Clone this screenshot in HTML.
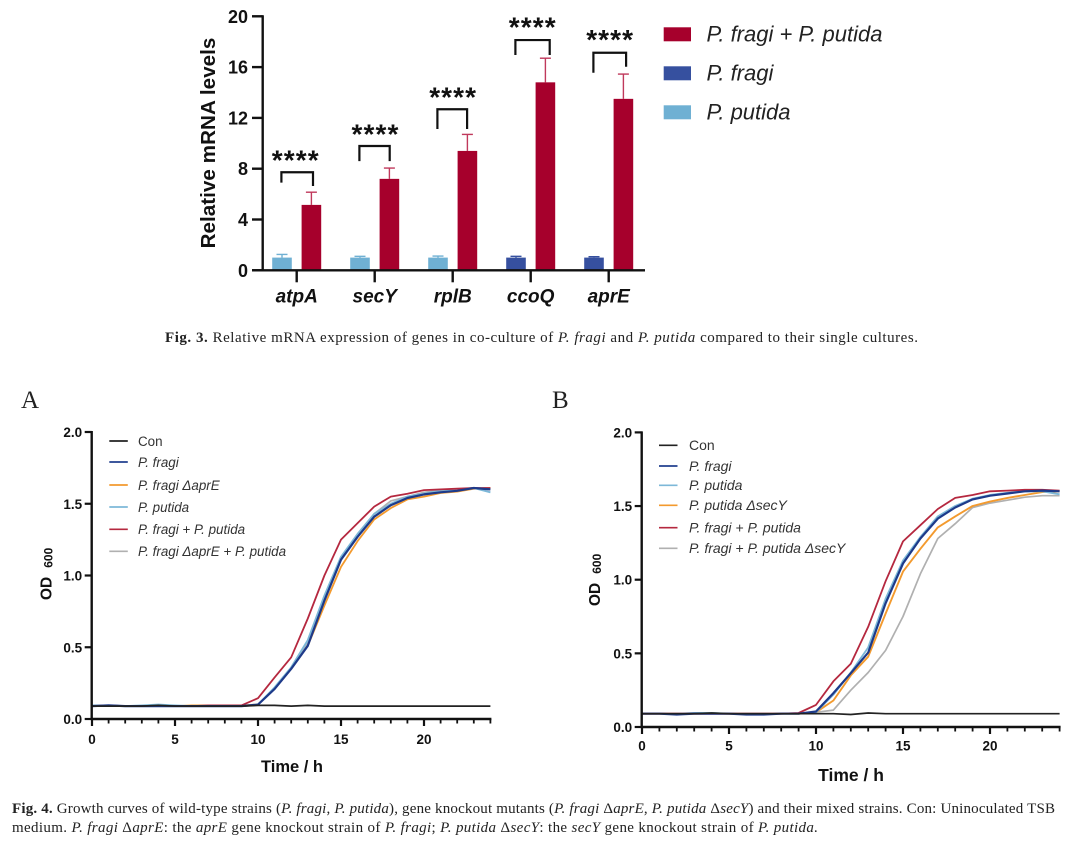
<!DOCTYPE html>
<html lang="en">
<head>
<meta charset="utf-8">
<title>Figures 3 and 4: mRNA expression and growth curves</title>
<style>
html,body{margin:0;padding:0;background:#fff;}
body{width:1080px;height:846px;overflow:hidden;}
svg{display:block;filter:blur(0.3px);}
.sans{font-family:"Liberation Sans",Arial,sans-serif;}
.serif{font-family:"Liberation Serif","Times New Roman",serif;fill:#222;}
</style>
</head>
<body>
<svg id="page" xmlns="http://www.w3.org/2000/svg" width="1080" height="846" viewBox="0 0 1080 846">
  <g id="bar-chart"></g>
  <text class="serif" x="165" y="342" font-size="15" textLength="753" lengthAdjust="spacing"><tspan font-weight="bold">Fig. 3.</tspan>  Relative mRNA expression of genes in co-culture of <tspan font-style="italic">P. fragi</tspan> and <tspan font-style="italic">P. putida</tspan> compared to their single cultures.</text>
  <text class="serif" x="21" y="408" font-size="25">A</text>
  <text class="serif" x="552" y="408" font-size="25">B</text>
  <g id="panel-a"></g>
  <g id="panel-b"></g>
  <text class="serif" x="12" y="813" font-size="15" textLength="1043" lengthAdjust="spacing"><tspan font-weight="bold">Fig. 4.</tspan>  Growth curves of wild-type strains (<tspan font-style="italic">P. fragi</tspan>, <tspan font-style="italic">P. putida</tspan>), gene knockout mutants (<tspan font-style="italic">P. fragi</tspan> Δ<tspan font-style="italic">aprE</tspan>, <tspan font-style="italic">P. putida</tspan> Δ<tspan font-style="italic">secY</tspan>) and their mixed strains. Con: Uninoculated TSB</text>
  <text class="serif" x="12" y="832" font-size="15" textLength="806" lengthAdjust="spacing">medium. <tspan font-style="italic">P. fragi</tspan> Δ<tspan font-style="italic">aprE</tspan>: the <tspan font-style="italic">aprE</tspan> gene knockout strain of <tspan font-style="italic">P. fragi</tspan>; <tspan font-style="italic">P. putida</tspan> Δ<tspan font-style="italic">secY</tspan>: the <tspan font-style="italic">secY</tspan> gene knockout strain of <tspan font-style="italic">P. putida.</tspan></text>
</svg>
<script>
/* ---------- Fig. 3 data ---------- */
var genes = ['atpA', 'secY', 'rplB', 'ccoQ', 'aprE'];
var singleValues = [1.0, 1.0, 1.0, 1.0, 1.0];
var singleErrors = [0.25, 0.1, 0.12, 0.1, 0.07];
var singleStrain = ['P. putida', 'P. putida', 'P. putida', 'P. fragi', 'P. fragi'];
var mixedValues = [5.15, 7.2, 9.4, 14.8, 13.5];
var mixedErrors = [1.0, 0.85, 1.3, 1.9, 1.95];
var barTicks = [0, 4, 8, 12, 16, 20];
var barLegend = ['P. fragi + P. putida', 'P. fragi', 'P. putida'];
var sigLabels = ['****', '****', '****', '****', '****'];
/* bracket heights in axis units: top, left-leg bottom, right-leg bottom */
var bracketTop = [7.72, 9.79, 12.68, 18.13, 17.13];
var bracketLeft = [6.9, 8.6, 11.13, 16.95, 15.56];
var bracketRight = [6.64, 8.6, 11.13, 16.95, 16.03];
var sigHeight = [8.94, 10.99, 13.88, 19.4, 18.4];

/* ---------- Fig. 4 data ---------- */
var hours = [0,1,2,3,4,5,6,7,8,9,10,11,12,13,14,15,16,17,18,19,20,21,22,23,24];
var odTicks = [0, 0.5, 1.0, 1.5, 2.0];
var hourTicks = [0, 5, 10, 15, 20];
var conA = [0.09,0.09,0.09,0.09,0.095,0.09,0.09,0.09,0.09,0.09,0.095,0.095,0.09,0.095,0.09,0.09,0.09,0.09,0.09,0.09,0.09,0.09,0.09,0.09,0.09];
var fragiA = [0.09,0.095,0.09,0.09,0.09,0.09,0.09,0.09,0.09,0.09,0.10,0.21,0.35,0.51,0.825,1.11,1.27,1.41,1.49,1.54,1.565,1.58,1.59,1.61,1.60];
var fragiAprEA = [0.09,0.09,0.09,0.09,0.09,0.09,0.095,0.095,0.095,0.095,0.10,0.21,0.35,0.51,0.79,1.06,1.24,1.39,1.47,1.53,1.55,1.575,1.585,1.605,1.61];
var putidaA = [0.095,0.095,0.09,0.095,0.10,0.095,0.09,0.09,0.09,0.09,0.10,0.22,0.36,0.55,0.86,1.13,1.29,1.43,1.50,1.55,1.57,1.59,1.60,1.61,1.58];
var mixedA = [0.09,0.095,0.09,0.09,0.09,0.09,0.09,0.095,0.095,0.095,0.145,0.29,0.43,0.70,1.0,1.25,1.365,1.48,1.55,1.57,1.595,1.60,1.605,1.61,1.61];
var mixedAprEA = [0.09,0.09,0.09,0.09,0.09,0.09,0.09,0.09,0.09,0.09,0.10,0.215,0.355,0.53,0.84,1.12,1.28,1.43,1.52,1.55,1.58,1.595,1.60,1.61,1.60];
var conB = [0.09,0.09,0.09,0.09,0.095,0.09,0.09,0.09,0.09,0.09,0.09,0.09,0.085,0.095,0.09,0.09,0.09,0.09,0.09,0.09,0.09,0.09,0.09,0.09,0.09];
var fragiB = [0.09,0.09,0.085,0.09,0.09,0.09,0.085,0.085,0.09,0.09,0.105,0.23,0.365,0.505,0.84,1.11,1.28,1.415,1.49,1.545,1.57,1.585,1.60,1.605,1.60];
var putidaB = [0.09,0.09,0.09,0.095,0.095,0.09,0.09,0.09,0.09,0.09,0.10,0.22,0.37,0.54,0.87,1.13,1.29,1.43,1.50,1.55,1.575,1.59,1.60,1.60,1.58];
var putidaSecYB = [0.09,0.09,0.09,0.09,0.09,0.09,0.09,0.09,0.09,0.09,0.10,0.18,0.35,0.477,0.77,1.055,1.21,1.355,1.43,1.50,1.53,1.555,1.575,1.595,1.60];
var mixedB = [0.09,0.09,0.09,0.09,0.09,0.09,0.09,0.09,0.09,0.095,0.15,0.31,0.43,0.68,0.99,1.26,1.37,1.48,1.555,1.575,1.60,1.605,1.61,1.61,1.605];
var mixedSecYB = [0.09,0.09,0.09,0.09,0.09,0.09,0.09,0.09,0.09,0.09,0.10,0.115,0.25,0.37,0.52,0.75,1.04,1.28,1.38,1.49,1.52,1.54,1.56,1.57,1.57];

var legendA = [
  {label: 'Con', color: '#222222', italic: false},
  {label: 'P. fragi', color: '#23408f', italic: true},
  {label: 'P. fragi ΔaprE', color: '#f39a2e', italic: true},
  {label: 'P. putida', color: '#7db8d8', italic: true},
  {label: 'P. fragi + P. putida', color: '#b5283f', italic: true},
  {label: 'P. fragi ΔaprE + P. putida', color: '#b0b0b0', italic: true}
];
var legendB = [
  {label: 'Con', color: '#222222', italic: false},
  {label: 'P. fragi', color: '#23408f', italic: true},
  {label: 'P. putida', color: '#7db8d8', italic: true},
  {label: 'P. putida ΔsecY', color: '#f39a2e', italic: true},
  {label: 'P. fragi + P. putida', color: '#b5283f', italic: true},
  {label: 'P. fragi + P. putida ΔsecY', color: '#b0b0b0', italic: true}
];

/* ---------- helpers ---------- */
var NS = 'http://www.w3.org/2000/svg';
var INK = '#111111';

function make(parent, tag, name, attrs) {
  var el = document.createElementNS(NS, tag);
  
  
  for (var k in attrs) { el.setAttribute(k, attrs[k]); }
  parent.appendChild(el);
  return el;
}
function seg(parent, name, x1, y1, x2, y2, color, w) {
  return make(parent, 'line', name, {x1: x1, y1: y1, x2: x2, y2: y2, stroke: color, 'stroke-width': w});
}
function label(parent, name, x, y, str, attrs) {
  var el = make(parent, 'text', name, {x: x, y: y, 'class': 'sans', fill: INK});
  for (var k in attrs) { el.setAttribute(k, attrs[k]); }
  el.textContent = str;
  return el;
}

/* ---------- bar chart ---------- */
(function () {
  var g = document.getElementById('bar-chart');
  var y0 = 270.3, yPerUnit = 12.7;
  var firstGroup = 296.7, groupStep = 78, barOffset = 14.7, barW = 19.6;
  var bracketSpan = [31.6, 30.3, 29.7, 34.3, 32.7];
  var starShift = [-1.4, 0.3, 0, 1.6, 1];
  function yScale(v) { return y0 - v * yPerUnit; }
  function xScale(i) { return firstGroup + i * groupStep; }
  var RED = '#a6002c', DARK = '#36509f', LIGHT = '#6fb0d3';
  var strainColors = {'P. fragi': DARK, 'P. putida': LIGHT};

  function bar(name, cx, value, err, color, capColor) {
    seg(g, name + '-error', cx, yScale(value), cx, yScale(value + err), capColor, 1.4);
    seg(g, name + '-error-cap', cx - 5.5, yScale(value + err), cx + 5.5, yScale(value + err), capColor, 1.4);
    make(g, 'rect', name, {x: cx - barW / 2, y: yScale(value), width: barW, height: y0 - yScale(value), fill: color});
  }

  genes.forEach(function (gene, i) {
    var c = xScale(i);
    var col = strainColors[singleStrain[i]];
    bar('bar-single-' + gene, c - barOffset, singleValues[i], singleErrors[i], col, col);
    bar('bar-mixed-' + gene, c + barOffset, mixedValues[i], mixedErrors[i], RED, '#c0395c');
    seg(g, 'x-tick-' + gene, c, y0, c, y0 + 12, INK, 2.4);
    label(g, 'x-label-' + gene, c, 302.5, gene, {'font-size': 19, 'font-weight': 'bold', 'font-style': 'italic', 'text-anchor': 'middle'});

    var left = c - 15.3, right = left + bracketSpan[i];
    var d = 'M' + left + ' ' + yScale(bracketLeft[i]) + 'V' + yScale(bracketTop[i]) + 'H' + right + 'V' + yScale(bracketRight[i]);
    make(g, 'path', 'significance-bracket-' + gene, {d: d, fill: 'none', stroke: INK, 'stroke-width': 2.2});
    label(g, 'significance-stars-' + gene, c + starShift[i] + 0.5, yScale(sigHeight[i]) + 12.6, sigLabels[i], {'font-size': 28, 'font-weight': 'bold', 'text-anchor': 'middle', 'letter-spacing': '1.1'});
  });

  seg(g, 'y-axis-line', 262.7, 15.2, 262.7, y0 + 1, INK, 2.4);
  seg(g, 'x-axis-line', 252, y0, 645, y0, INK, 2.4);
  barTicks.forEach(function (t) {
    seg(g, 'y-tick-' + t, 252, yScale(t), 262.7, yScale(t), INK, 2.4);
    label(g, 'y-label-' + t, 248, yScale(t) + 6.5, String(t), {'font-size': 18, 'font-weight': 'bold', 'text-anchor': 'end'});
  });
  label(g, 'y-axis-title', 0, 0, 'Relative mRNA levels', {'font-size': 20.7, 'font-weight': 'bold', 'text-anchor': 'middle', transform: 'translate(215 143) rotate(-90)'});

  var legendColors = [RED, DARK, LIGHT];
  barLegend.forEach(function (str, i) {
    var top = 27.3 + i * 39;
    make(g, 'rect', 'legend-swatch-' + i, {x: 663.7, y: top, width: 27.3, height: 14, fill: legendColors[i]});
    label(g, 'legend-label-' + i, 706.5, top + 14.3, str, {'font-size': 22, 'font-style': 'italic', fill: '#222'});
  });
})();

/* ---------- growth charts ---------- */
function growthChart(opts) {
  var g = document.getElementById(opts.id);
  function xScale(h) { return opts.x0 + h * opts.xPerHour; }
  function yScale(v) { return opts.y0 - v * opts.yPerUnit; }

  opts.series.forEach(function (s) {
    var pts = hours.map(function (h, i) { return xScale(h).toFixed(1) + ',' + yScale(s.values[i]).toFixed(1); });
    make(g, 'polyline', 'series-' + s.name, {points: pts.join(' '), fill: 'none', stroke: s.color, 'stroke-width': s.width, 'stroke-linejoin': 'round'});
  });

  var axisX = opts.x0 - 0.3;
  seg(g, 'y-axis-line', axisX, yScale(2) - 1, axisX, opts.y0 + 1, INK, 2.4);
  seg(g, 'x-axis-line', axisX - 1, opts.y0, xScale(24) + 1, opts.y0, INK, 2.4);
  odTicks.forEach(function (t) {
    var y = yScale(t);
    seg(g, 'y-tick-' + t, axisX - 7, y, axisX, y, INK, 2.2);
    label(g, 'y-label-' + t, axisX - 9.5, y + 5, t.toFixed(1), {'font-size': 13.5, 'font-weight': 'bold', 'text-anchor': 'end'});
  });
  hours.forEach(function (h) {
    var major = hourTicks.indexOf(h) >= 0;
    seg(g, 'x-tick-' + h, xScale(h), opts.y0, xScale(h), opts.y0 + (major ? 7 : 4.5), INK, major ? 2.2 : 1.8);
  });
  hourTicks.forEach(function (h) {
    label(g, 'x-label-' + h, xScale(h), opts.y0 + opts.tickLabelGap, String(h), {'font-size': 13.5, 'font-weight': 'bold', 'text-anchor': 'middle'});
  });
  label(g, 'x-axis-title', opts.titleX, opts.titleY, 'Time / h', {'font-size': opts.titleSize, 'font-weight': 'bold', 'text-anchor': 'middle'});

  var yt = label(g, 'y-axis-title', 0, 0, 'OD', {'font-size': 15.5, 'font-weight': 'bold', transform: 'translate(' + opts.odX + ' ' + opts.odY + ') rotate(-90)'});
  var sub = make(yt, 'tspan', 'y-axis-title-subscript', {'font-size': 12, dx: 9, dy: 1});
  sub.textContent = '600';

  opts.legend.forEach(function (item, i) {
    var y = opts.legendY[i];
    seg(g, 'legend-line-' + i, opts.legendX, y, opts.legendX + 18.5, y, item.color, 1.7);
    label(g, 'legend-label-' + i, opts.legendTextX, y + 4.8, item.label, {'font-size': opts.legendSize, 'font-style': item.italic ? 'italic' : 'normal', fill: '#333'});
  });
}

growthChart({
  id: 'panel-a', x0: 92, xPerHour: 16.6, y0: 719, yPerUnit: 143.5,
  titleX: 292, titleY: 772, titleSize: 16.5, odX: 51.7, odY: 600, tickLabelGap: 25,
  legend: legendA, legendX: 109.3, legendTextX: 138, legendSize: 13.4,
  legendY: [441, 462, 485, 507, 529.3, 551.3],
  series: [
    {name: 'fragi-apre', values: fragiAprEA, color: '#f39a2e', width: 1.8},
    {name: 'mixed-apre', values: mixedAprEA, color: '#b0b0b0', width: 1.7},
    {name: 'putida', values: putidaA, color: '#7db8d8', width: 1.9},
    {name: 'mixed', values: mixedA, color: '#b5283f', width: 1.8},
    {name: 'fragi', values: fragiA, color: '#1d3a8a', width: 2.2},
    {name: 'con', values: conA, color: '#222222', width: 1.7}
  ]
});
growthChart({
  id: 'panel-b', x0: 642, xPerHour: 17.4, y0: 727, yPerUnit: 147.3,
  titleX: 851, titleY: 781, titleSize: 17.5, odX: 600, odY: 606, tickLabelGap: 23.5,
  legend: legendB, legendX: 659, legendTextX: 689, legendSize: 14,
  legendY: [445.3, 466, 485.3, 505.3, 527.7, 548.3],
  series: [
    {name: 'mixed-secy', values: mixedSecYB, color: '#b0b0b0', width: 1.7},
    {name: 'putida-secy', values: putidaSecYB, color: '#f39a2e', width: 1.9},
    {name: 'putida', values: putidaB, color: '#7db8d8', width: 1.9},
    {name: 'mixed', values: mixedB, color: '#b5283f', width: 1.8},
    {name: 'fragi', values: fragiB, color: '#1d3a8a', width: 2.2},
    {name: 'con', values: conB, color: '#222222', width: 1.7}
  ]
});
</script>
</body>
</html>
